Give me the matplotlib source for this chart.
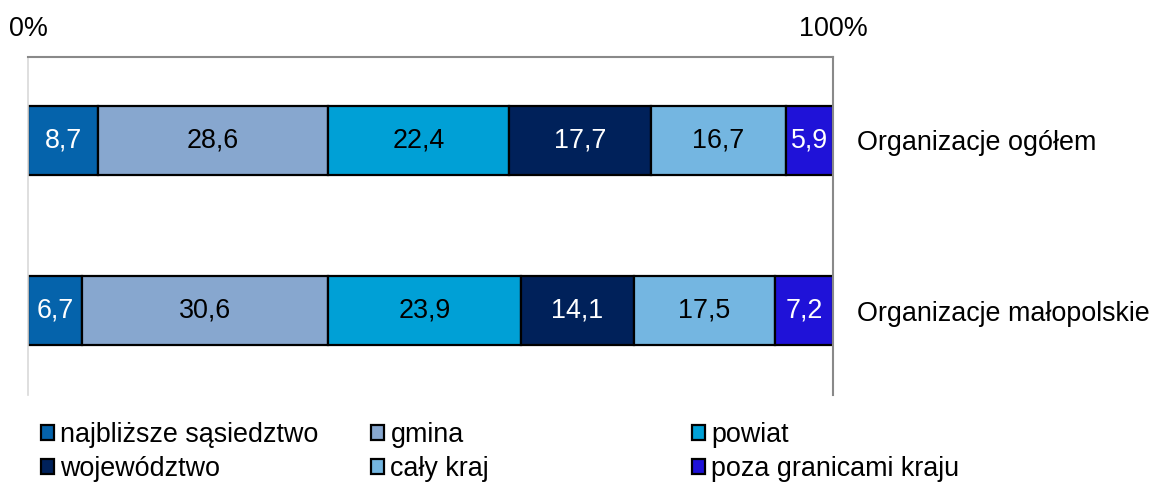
import matplotlib
matplotlib.use("Agg")
import matplotlib.pyplot as plt
import numpy as np

plt.rcParams['font.family'] = ['Liberation Sans', 'DejaVu Sans']

categories = ["Organizacje ogółem", "Organizacje małopolskie"]
series_names = ["najbliższe sąsiedztwo", "gmina", "powiat",
                "województwo", "cały kraj", "poza granicami kraju"]
values = {
    "najbliższe sąsiedztwo": [8.7, 6.7],
    "gmina": [28.6, 30.6],
    "powiat": [22.4, 23.9],
    "województwo": [17.7, 14.1],
    "cały kraj": [16.7, 17.5],
    "poza granicami kraju": [5.9, 7.2],
}
colors = ["#0563AB", "#87A7CF", "#00A0D6", "#00215A", "#74B6E1", "#1F12D8"]
label_colors = ["white", "black", "black", "white", "black", "white"]
xticks = [0, 100]
xtick_labels = ["0%", "100%"]

FS = 19.4
fig = plt.figure(figsize=(11.5, 4.86), dpi=100)
ax = fig.add_axes([28/1150, 1-395/486, (833-28)/1150, (395-57)/486])

y = np.arange(len(categories))
left = np.zeros(len(categories))
handles = []
for name, c, lc in zip(series_names, colors, label_colors):
    v = np.array(values[name])
    bars = ax.barh(y, v, left=left, height=0.405, color=c, edgecolor="black",
                   linewidth=1.6, label=name)
    ax.bar_label(bars, labels=[f"{x:.1f}".replace(".", ",") for x in v],
                 label_type="center", color=lc, fontsize=FS)
    handles.append(bars)
    left += v

ax.set_xlim(0, 100)
ax.set_ylim(1.497, -0.491)
ax.xaxis.tick_top()
ax.set_xticks(xticks)
ax.set_xticklabels(xtick_labels, fontsize=FS)
ax.tick_params(axis="x", length=0, pad=11)
ax.yaxis.tick_right()
ax.set_yticks(y)
ax.set_yticklabels(categories, fontsize=FS)
ax.tick_params(axis="y", length=0, pad=17)

ax.spines["bottom"].set_visible(False)
ax.spines["left"].set_color("#d9d9d9")
ax.spines["left"].set_linewidth(1.2)
ax.spines["top"].set_color("#898989")
ax.spines["top"].set_linewidth(1.5)
ax.spines["right"].set_color("#898989")
ax.spines["right"].set_linewidth(1.5)

col_x = [41/1150, 371/1150, 692/1150]
groups = [(0, 3), (1, 4), (2, 5)]
for cx, (i, j) in zip(col_x, groups):
    leg = fig.legend([handles[i], handles[j]], [series_names[i], series_names[j]],
                     loc="center left", bbox_to_anchor=(cx, 1-452/486),
                     frameon=False, fontsize=FS, handlelength=0.5, handleheight=0.5,
                     handletextpad=0.22, borderpad=0, borderaxespad=0, labelspacing=0.28)
    for p in leg.get_patches():
        p.set_linewidth(1.6)

fig.savefig("out.png", dpi=100)
